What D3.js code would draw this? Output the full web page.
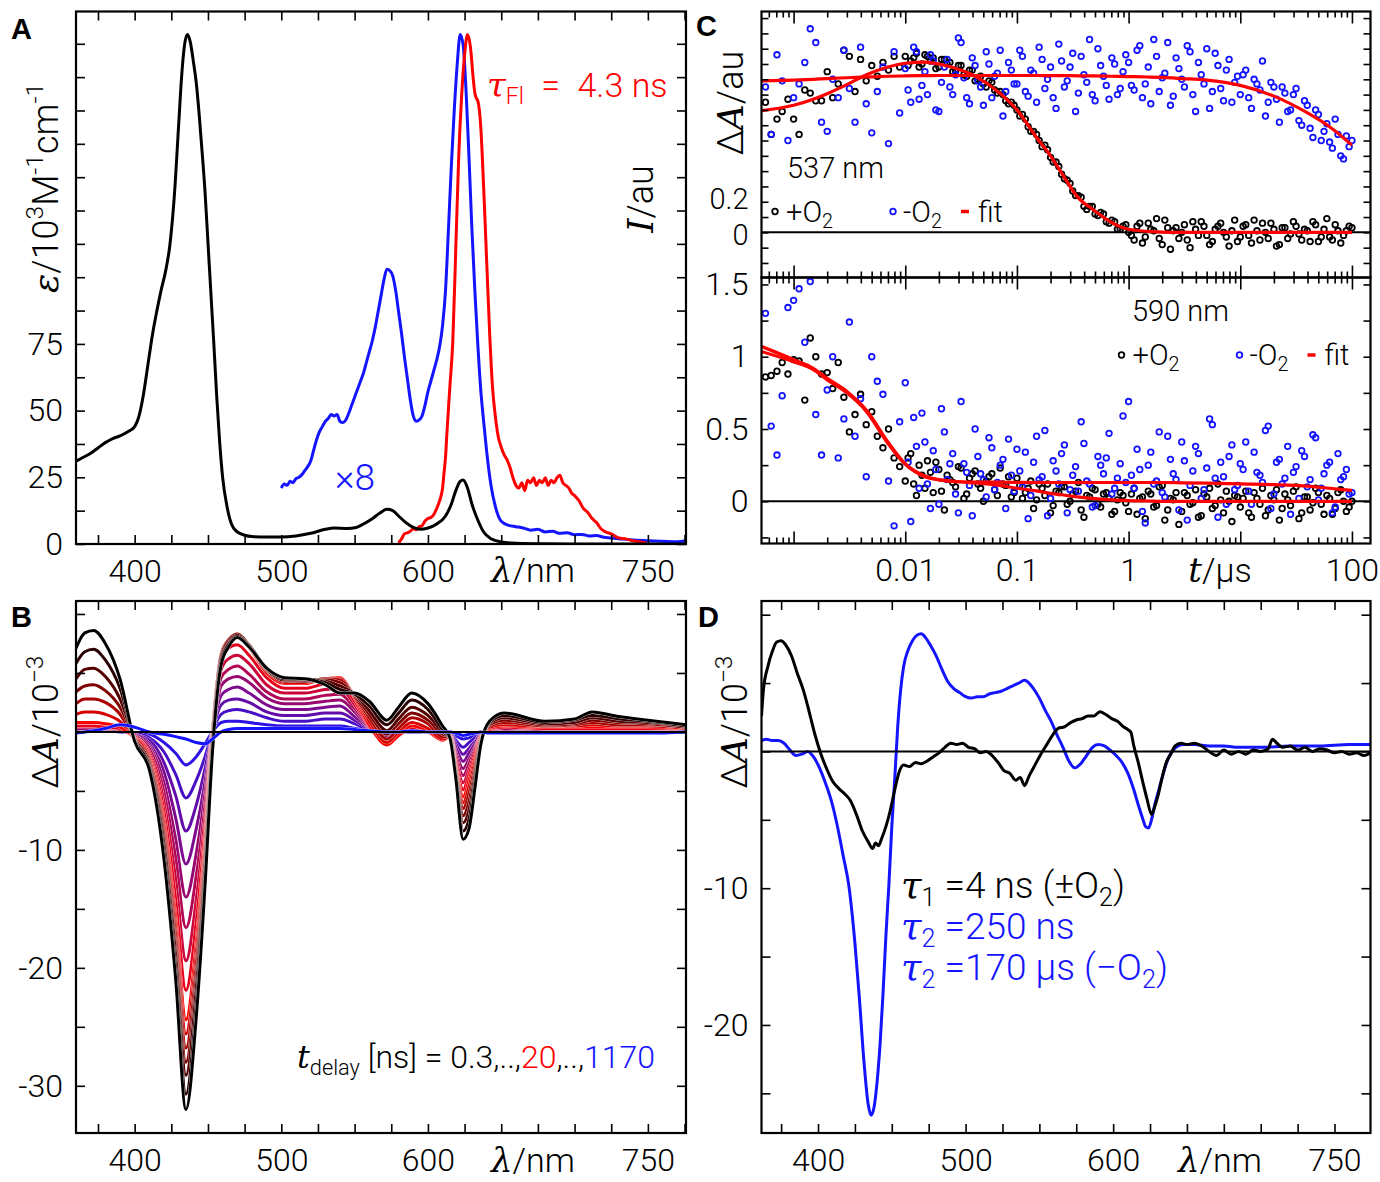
<!DOCTYPE html>
<html>
<head>
<meta charset="utf-8">
<script src="https://cdn.jsdelivr.net/npm/d3@7"></script>
<style>
  body { margin: 0; background: #fff; }
  svg { display: block; }
</style>
</head>
<body>
<svg id="fig" width="1380" height="1182"></svg>
<script>
// ---------- data ----------

// A: absorption (black), absorption x8 (blue), fluorescence (red, normalised)
const absorption = [[360,31],[365,32.5],[370,34],[375,36],[380,38],[385,39.5],[390,40.5],[395,42],[400,44],[403,48],[406,56],[409,67],[412,78],[415,87],[418,95],[421,102],[424,112],[427,130],[430,157],[432,175],[434,187],[436,191],[438,188],[440,181],[442,173],[444,161],[446,147],[448,132],[450,113],[452,94],[454,75],[456,55],[458,38],[460,25],[463,14],[466,7.5],[470,4.5],[475,3.3],[480,2.8],[490,2.6],[500,2.6],[510,3],[520,4],[530,5.5],[536,6],[545,5.8],[551,6.2],[556,7.5],[562,9.5],[567,11.5],[572,13],[576,12.5],[580,10.5],[585,8],[590,6.2],[595,5.5],[600,6],[606,7.5],[612,10.5],[616,15],[619,20],[622,23.5],[624,24],[627,21],[630,15],[634,9],[638,4.5],[643,2],[650,0.8],[660,0.3],[680,0.1],[720,0],[776,0]];
const absorptionX8 = [[500,21],[502,22.5],[504,22],[506,23.5],[508,23],[510,24.5],[512,25],[514,26],[516,27.5],[518,29],[520,31],[522,35],[524,39],[526,42],[528,44],[530,46],[532,47],[534,48.5],[536,48],[538,48.5],[540,46],[542,45.5],[544,46.5],[546,49],[548,52],[550,55],[552,58],[554,61],[556,64],[558,68],[560,72],[562,76],[564,81],[566,87],[568,93],[570,99],[572,103],[574,102.5],[576,100.5],[578,95],[580,87],[582,79],[584,70],[586,62],[588,54],[590,48],[592,46],[594,46.5],[596,48],[598,52],[600,57],[602,61],[604,65],[606,69],[608,74],[610,82],[612,95],[614,118],[616,142],[618,163],[620,180],[622,191],[624,187],[626,170],[628,145],[630,118],[632,95],[634,75],[636,58],[638,46],[640,35],[643,22],[646,14],[650,8.5],[655,7],[660,6.5],[665,6],[670,5.2],[675,5.5],[680,4.5],[685,4.8],[690,4],[695,4.2],[700,3.5],[705,3.6],[710,3],[715,3.2],[720,2.5],[730,2],[740,1.5],[750,1.2],[760,1],[770,0.8],[776,1.2]];
const emission = [[580,0.002],[582,0.01],[584,0.02],[586,0.022],[588,0.025],[590,0.03],[592,0.028],[594,0.034],[596,0.036],[598,0.045],[600,0.05],[602,0.052],[604,0.058],[606,0.07],[608,0.085],[610,0.11],[611,0.14],[612,0.17],[613,0.22],[615,0.31],[617,0.4],[619,0.58],[621,0.76],[623,0.88],[625,0.96],[627,1.0],[629,0.975],[631,0.91],[632,0.885],[633,0.875],[634,0.87],[636,0.82],[638,0.7],[640,0.56],[642,0.42],[644,0.31],[646,0.25],[648,0.21],[650,0.19],[652,0.175],[654,0.165],[656,0.15],[658,0.13],[660,0.115],[662,0.11],[664,0.12],[666,0.105],[668,0.125],[670,0.12],[672,0.13],[674,0.115],[676,0.125],[678,0.12],[680,0.13],[682,0.115],[684,0.125],[686,0.12],[688,0.13],[690,0.135],[692,0.12],[694,0.115],[696,0.11],[698,0.1],[700,0.095],[703,0.085],[706,0.07],[709,0.062],[712,0.05],[715,0.042],[718,0.03],[721,0.024],[725,0.02],[730,0.012],[735,0.01],[740,0.006],[745,0.004],[749,0.002]];

// B: transient spectra, one row per wavelength, 16 delays (0.3 ns ... 20 ns ... 1170 ns)
const tdWavelength = [360,366,372,380,390,400,410,420,428,435,442,448,453,459,464,470,478,490,502,516,530,540,550,560,572,580,589,600,610,615,619,624,628,632,636,642,652,680,700,712,730,750,776];
const tdSpectra = [
  [7.1,5.8,4.5,3.4,2.4,1.5,0.8, 0.5,0.5,0.4,0.3,0.3,0.2,0.1,0.1, -0.1],
  [8.4,6.8,5.3,3.9,2.8,1.7,0.8, 0.5,0.5,0.4,0.3,0.3,0.2,0.1,0.1, 0.0],
  [8.6,7.0,5.4,4.0,2.8,1.7,0.8, 0.5,0.5,0.4,0.3,0.3,0.2,0.1,0.1, 0.1],
  [7.5,6.1,4.7,3.5,2.5,1.5,0.7, 0.4,0.4,0.3,0.3,0.2,0.2,0.1,0.1, 0.3],
  [4.5,3.7,2.8,2.1,1.5,0.9,0.4, 0.3,0.2,0.2,0.2,0.1,0.1,0.1,0.0, 0.6],
  [-0.8,-0.7,-0.7,-0.6,-0.6,-0.5,-0.5, -0.4,-0.4,-0.3,-0.3,-0.2,-0.2,-0.1,-0.1, 0.4],
  [-3.2,-3.0,-2.8,-2.6,-2.4,-2.3,-2.1, -1.9,-1.7,-1.4,-1.2,-1.0,-0.7,-0.5,-0.2, 0.0],
  [-10.8,-10.2,-9.5,-9.0,-8.5,-8.0,-7.5, -6.7,-5.9,-5.1,-4.3,-3.4,-2.6,-1.7,-0.9, -0.2],
  [-21.0,-20.1,-19.0,-18.3,-17.4,-16.6,-15.8, -14.2,-12.5,-10.7,-9.1,-7.3,-5.4,-3.6,-1.8, -0.4],
  [-32.0,-30.7,-29.1,-28.0,-26.8,-25.6,-24.4, -21.9,-19.4,-16.6,-14.0,-11.2,-8.4,-5.6,-2.8, -0.6],
  [-24.2,-23.1,-21.8,-20.9,-19.9,-18.9,-17.9, -16.1,-14.2,-12.2,-10.3,-8.2,-6.2,-4.1,-2.1, -0.9],
  [-13.0,-12.3,-11.5,-10.9,-10.3,-9.7,-9.1, -8.2,-7.2,-6.2,-5.2,-4.2,-3.1,-2.1,-1.0, -1.0],
  [-1.8,-1.4,-1.1,-0.8,-0.5,-0.3,-0.1, 0,0,0,0,0,0,0,0, -0.6],
  [5.7,6.0,6.2,6.4,6.5,6.6,6.6, 6.0,5.3,4.6,3.9,3.1,2.3,1.5,0.8, 0.0],
  [7.2,7.4,7.5,7.7,7.8,7.8,7.8, 7.1,6.2,5.3,4.5,3.6,2.7,1.8,0.9, 0.2],
  [8.0,8.1,8.2,8.3,8.3,8.3,8.2, 7.4,6.5,5.6,4.7,3.8,2.8,1.9,0.9, 0.3],
  [7.2,7.3,7.3,7.4,7.3,7.3,7.2, 6.5,5.8,4.9,4.2,3.3,2.5,1.7,0.8, 0.3],
  [5.4,5.4,5.3,5.3,5.2,5.2,5.0, 4.6,4.0,3.4,2.9,2.3,1.7,1.2,0.6, 0.3],
  [4.6,4.5,4.4,4.4,4.3,4.2,4.1, 3.7,3.3,2.8,2.4,1.9,1.4,0.9,0.5, 0.3],
  [4.5,4.5,4.4,4.3,4.3,4.2,4.1, 3.7,3.3,2.8,2.4,1.9,1.4,0.9,0.5, 0.3],
  [4.0,4.2,4.3,4.4,4.5,4.5,4.5, 4.1,3.6,3.1,2.6,2.1,1.6,1.1,0.5, 0.3],
  [3.3,3.6,3.9,4.2,4.4,4.5,4.6, 4.2,3.7,3.2,2.7,2.2,1.6,1.1,0.5, 0.3],
  [3.3,3.2,3.2,3.1,3.0,3.0,2.9, 2.6,2.3,2.0,1.7,1.3,1.0,0.7,0.3, 0.2],
  [2.6,2.2,1.8,1.5,1.2,0.9,0.6, 0.5,0.5,0.4,0.3,0.3,0.2,0.1,0.1, 0.1],
  [1.0,0.6,0.1,-0.2,-0.6,-0.9,-1.1, -1.0,-0.9,-0.8,-0.7,-0.5,-0.4,-0.3,-0.1, 0.0],
  [2.1,1.6,1.1,0.7,0.3,0.0,-0.3, -0.3,-0.3,-0.3,-0.2,-0.2,-0.1,-0.1,0.0, 0.0],
  [3.3,2.7,2.1,1.6,1.2,0.8,0.5, 0.3,0.3,0.3,0.2,0.2,0.1,0.1,0.0, 0.1],
  [2.4,1.9,1.4,1.0,0.7,0.3,0.1, 0,0,0,0,0,0,0,0, 0.0],
  [0.5,0.2,0.0,-0.2,-0.4,-0.6,-0.7, -0.7,-0.6,-0.5,-0.4,-0.4,-0.3,-0.2,-0.1, 0.0],
  [-0.5,-0.5,-0.5,-0.4,-0.4,-0.4,-0.4, -0.3,-0.3,-0.3,-0.2,-0.2,-0.1,-0.1,0.0, 0.0],
  [-3.9,-3.7,-3.5,-3.4,-3.2,-3.0,-2.9, -2.6,-2.3,-2.0,-1.7,-1.3,-1.0,-0.7,-0.3, -0.1],
  [-9.1,-8.4,-7.7,-7.1,-6.5,-6.0,-5.5, -4.9,-4.3,-3.7,-3.1,-2.5,-1.9,-1.3,-0.6, -0.3],
  [-8.2,-7.4,-6.6,-5.9,-5.2,-4.6,-4.1, -3.6,-3.2,-2.7,-2.3,-1.8,-1.4,-0.9,-0.5, -0.2],
  [-4.8,-4.3,-3.8,-3.4,-3.0,-2.6,-2.3, -2.0,-1.7,-1.5,-1.3,-1.0,-0.8,-0.5,-0.3, -0.1],
  [-1.1,-1.0,-0.9,-0.8,-0.7,-0.6,-0.5, -0.4,-0.4,-0.3,-0.3,-0.2,-0.2,-0.1,-0.1, 0.0],
  [0.9,0.8,0.7,0.6,0.5,0.4,0.3, 0.3,0.2,0.2,0.2,0.1,0.1,0.1,0.0, -0.1],
  [1.6,1.4,1.2,1.0,0.8,0.6,0.5, 0.4,0.4,0.3,0.3,0.2,0.2,0.1,0.1, -0.1],
  [0.9,0.8,0.7,0.6,0.5,0.5,0.4, 0.3,0.3,0.3,0.2,0.2,0.1,0.1,0.0, -0.1],
  [1.1,1.0,0.8,0.7,0.6,0.5,0.4, 0.3,0.3,0.3,0.2,0.2,0.1,0.1,0.0, -0.1],
  [1.7,1.4,1.2,1.0,0.8,0.6,0.4, 0.3,0.3,0.3,0.2,0.2,0.1,0.1,0.0, -0.1],
  [1.3,1.1,0.9,0.8,0.6,0.5,0.4, 0.3,0.3,0.3,0.2,0.2,0.1,0.1,0.0, -0.1],
  [1.0,0.9,0.8,0.7,0.6,0.5,0.4, 0.3,0.3,0.3,0.2,0.2,0.1,0.1,0.0, -0.1],
  [0.6,0.5,0.5,0.4,0.4,0.3,0.3, 0.3,0.2,0.2,0.2,0.1,0.1,0.1,0.0, 0.0]
];
const tdEarlyCount = 7;   // 0.3 ns .. 20 ns, black -> red; rest red -> blue

// C: kinetics at 537 nm and 590 nm (time in microseconds), two interleaved sampling sets
const kinTime = [0.00056,0.00063,0.00071,0.00079,0.00089,
  0.001,0.00112,0.00126,0.00141,0.00158,0.00178,0.002,0.00224,0.00251,0.00282,0.00316,0.00355,0.00398,0.00447,0.00501,0.00562,0.00631,0.00708,0.00794,0.00891,
  0.01,0.0112,0.0126,0.0141,0.0158,0.0178,0.02,0.0224,0.0251,0.0282,0.0316,0.0355,0.0398,0.0447,0.0501,0.0562,0.0631,0.0708,0.0794,0.0891,
  0.1,0.112,0.126,0.141,0.158,0.178,0.2,0.224,0.251,0.282,0.316,0.355,0.398,0.447,0.501,0.562,0.631,0.708,0.794,0.891,
  1,1.12,1.26,1.41,1.58,1.78,2,2.24,2.51,2.82,3.16,3.55,3.98,4.47,5.01,5.62,6.31,7.08,7.94,8.91,
  10,11.2,12.6,14.1,15.8,17.8,20,22.4,25.1,28.2,31.6,35.5,39.8,44.7,50.1,56.2,63.1,70.8,79.4,89.1,100];
const k537Plus = [0.85,0.64,0.74,0.79,0.87,
  0.74,0.64,0.93,0.91,0.86,0.86,1.05,0.88,0.97,1.19,1.15,0.92,1.13,0.99,1.09,1.02,1.11,1.06,1.15,1.08,
  1.15,1.12,1.17,1.10,1.15,1.14,1.08,1.13,1.11,1.05,1.09,1.02,1.06,1.00,0.97,0.99,0.93,0.92,0.86,0.85,
  0.80,0.77,0.69,0.66,0.60,0.57,0.49,0.46,0.38,0.34,0.27,0.24,0.17,0.17,0.12,0.13,0.07,0.08,0.02,0.04,
  0.00,-0.05,0.06,-0.03,0.02,0.09,-0.08,0.03,0.01,-0.04,0.05,-0.10,0.02,0.07,-0.02,-0.06,0.04,0.00,-0.09,0.08,
  -0.03,0.05,-0.07,0.01,0.06,-0.04,0.02,-0.08,0.03,-0.01,0.04,-0.05,0.01,0.07,-0.06,0.02,-0.03,0.05,-0.07,0.01,0.03];
const k537Minus = [0.95,0.64,1.16,0.99,0.60,
  0.88,0.97,1.11,1.33,1.24,0.72,0.66,1.00,0.88,1.19,0.94,0.72,1.21,0.84,0.65,0.92,1.08,0.58,1.18,0.78,
  1.07,0.85,1.18,0.96,0.90,1.12,0.79,1.08,0.95,1.03,1.24,0.88,1.14,0.99,0.83,1.10,1.02,1.19,0.92,1.06,
  0.97,1.15,0.89,1.04,1.21,0.94,1.08,0.81,1.12,0.99,1.17,0.91,1.03,1.26,0.86,1.09,0.96,1.14,0.90,1.05,
  1.11,0.93,1.22,0.97,0.84,1.15,1.01,1.24,0.89,1.07,0.95,1.18,0.79,1.03,1.20,0.92,1.09,0.86,1.13,0.98,
  0.90,1.06,0.81,0.97,1.12,0.85,0.95,0.72,0.91,0.80,0.94,0.70,0.83,0.62,0.77,0.66,0.59,0.74,0.50,0.63,0.60];
const k590Plus = [0.86,0.87,0.90,0.96,0.88,
  0.98,0.97,0.70,1.13,1.00,0.88,0.89,0.78,0.96,0.72,0.48,0.60,0.74,0.53,0.62,0.45,0.37,0.50,0.30,0.24,
  0.14,0.33,0.04,0.18,0.28,0.06,0.22,-0.06,0.15,0.10,0.23,0.05,0.19,0.12,0.00,0.17,0.08,0.23,0.11,0.03,
  0.16,0.02,0.09,-0.05,0.12,0.04,-0.08,0.07,0.10,-0.02,0.05,0.13,-0.11,0.03,0.08,-0.04,0.06,-0.09,0.01,0.04,
  -0.07,0.09,0.02,-0.12,0.05,-0.03,0.11,-0.06,0.01,-0.16,0.06,-0.02,0.08,-0.10,0.03,-0.05,0.12,-0.08,0.00,0.04,
  -0.04,0.07,-0.11,0.02,0.09,-0.06,0.01,-0.13,0.05,-0.03,0.10,-0.08,0.03,-0.01,0.06,-0.09,0.02,-0.05,0.08,-0.07,0.00];
const k590Minus = [1.30,0.52,0.32,0.73,1.34,
  1.39,1.47,1.10,1.52,0.60,0.32,0.77,1.00,0.30,0.57,1.24,0.45,0.71,0.17,1.00,0.83,0.74,0.14,-0.17,0.55,
  0.82,-0.14,0.38,0.61,0.12,0.35,-0.02,0.48,0.26,0.05,0.69,0.20,-0.10,0.31,0.15,0.44,0.08,0.25,-0.05,0.18,
  0.36,0.10,-0.12,0.27,0.15,0.49,0.02,0.21,0.33,-0.08,0.18,0.07,0.40,0.12,-0.03,0.25,0.30,0.05,0.16,0.59,
  0.69,0.09,0.22,-0.15,0.34,0.14,0.06,0.45,0.19,-0.06,0.28,0.11,0.38,0.02,0.23,0.53,-0.11,0.17,0.31,0.08,
  0.26,0.41,-0.02,0.20,0.13,0.52,0.05,0.29,0.16,-0.09,0.24,0.35,0.10,0.46,0.01,0.19,0.27,-0.04,0.15,0.22,0.06];

const kinTime2 = [0.0106,0.0119,0.0133,0.015,0.0168,0.0188,0.0211,0.0237,0.0266,0.0299,0.0335,0.0376,0.0422,0.0473,0.0531,0.0596,0.0668,0.075,0.0841,0.0944,
  0.106,0.119,0.133,0.15,0.168,0.188,0.211,0.237,0.266,0.299,0.335,0.376,0.422,0.473,0.531,0.596,0.668,0.75,0.841,0.944,
  1.06,1.19,1.33,1.5,1.68,1.88,2.11,2.37,2.66,2.99,3.35,3.76,4.22,4.73,5.31,5.96,6.68,7.5,8.41,9.44,
  10.6,11.9,13.3,15,16.8,18.8,21.1,23.7,26.6,29.9,33.5,37.6,42.2,47.3,53.1,59.6,66.8,75,84.1,94.4];
const k537Plus2 = [1.09,1.14,1.08,1.16,1.12,1.07,1.13,1.10,1.05,1.09,1.03,1.06,0.99,1.02,0.95,0.98,0.91,0.90,0.84,0.83,
  0.76,0.74,0.66,0.64,0.56,0.54,0.46,0.43,0.35,0.32,0.24,0.23,0.15,0.17,0.11,0.12,0.06,0.07,0.02,0.05,
  -0.02,0.04,-0.07,0.06,0.01,-0.04,0.08,-0.11,0.03,0.00,-0.05,0.07,-0.02,0.04,-0.08,0.02,0.06,-0.03,0.01,-0.06,
  0.04,-0.02,0.08,-0.05,0.00,0.06,-0.09,0.03,-0.04,0.07,-0.01,0.02,-0.06,0.05,-0.03,0.09,-0.05,0.01,-0.02,0.04];
const k537Minus2 = [0.93,1.21,0.87,1.05,1.16,0.80,0.98,1.13,0.90,1.27,1.01,0.84,1.09,0.95,1.18,0.88,1.04,0.76,1.11,0.97,
  1.19,0.92,1.06,0.85,1.13,1.00,0.88,1.23,0.95,1.08,0.79,1.15,0.98,0.90,1.20,1.02,0.87,1.10,0.94,1.16,
  0.96,1.19,0.88,1.08,1.26,0.92,1.04,0.83,1.14,1.00,1.22,0.90,1.11,0.97,0.81,1.17,0.94,1.06,0.85,1.02,
  1.03,0.88,1.00,0.93,0.76,0.98,0.87,0.95,0.79,0.90,0.73,0.86,0.68,0.80,0.60,0.71,0.55,0.64,0.48,0.56];
const k590Plus2 = [0.30,0.12,0.25,0.09,0.20,0.27,0.07,0.18,0.13,0.24,0.02,0.16,0.21,0.09,0.14,0.19,0.04,0.12,0.17,0.06,
  0.11,0.06,0.14,0.01,0.09,0.12,-0.03,0.06,0.10,0.00,0.07,-0.06,0.04,0.09,-0.02,0.05,0.02,-0.07,0.06,-0.01,
  0.05,-0.09,0.03,0.07,-0.04,0.10,-0.13,0.02,0.06,-0.07,0.04,-0.01,-0.11,0.05,0.09,-0.03,0.01,0.07,-0.14,0.03,
  0.02,-0.08,0.06,-0.02,-0.10,0.04,0.08,-0.05,0.01,0.07,-0.12,0.03,-0.06,0.09,-0.02,0.04,-0.09,0.06,0.00,-0.04];
const k590Minus2 = [0.27,0.58,0.09,0.41,-0.05,0.22,0.64,0.15,0.33,-0.08,0.26,0.11,0.50,0.19,0.03,0.37,0.13,0.29,0.43,0.07,
  0.21,0.34,0.04,0.45,0.17,-0.10,0.28,0.12,0.39,0.08,0.24,0.55,0.14,-0.04,0.31,0.19,0.47,0.09,0.26,0.13,
  0.18,0.36,-0.07,0.25,0.12,0.48,0.03,0.29,0.15,0.41,-0.13,0.21,0.33,0.08,0.57,0.16,0.27,-0.02,0.39,0.11,
  0.22,0.07,0.34,0.18,0.49,-0.05,0.27,0.12,0.38,0.20,0.02,0.31,0.15,0.44,0.09,0.25,-0.08,0.33,0.17,0.05];

const fitTime = [0.00052,0.001,0.0015,0.002,0.003,0.0045,0.007,0.01,0.015,0.02,0.03,0.045,0.07,0.1,0.15,0.2,0.25,0.35,0.5,0.7,1,1.5,2,3,5,10,20,40,63,100];
const fit537Plus  = [0.795,0.83,0.87,0.906,0.965,1.03,1.08,1.105,1.112,1.10,1.065,1.01,0.91,0.80,0.62,0.50,0.39,0.23,0.14,0.065,0.02,0.006,0.002,0,0,0,0,0,0,0];
const fit537Minus = [0.99,0.995,1.0,1.005,1.01,1.015,1.02,1.022,1.024,1.025,1.025,1.025,1.025,1.025,1.025,1.024,1.024,1.023,1.022,1.02,1.018,1.015,1.012,1.005,0.995,0.96,0.89,0.78,0.69,0.57];
const fit590Plus  = [1.07,0.98,0.92,0.85,0.76,0.63,0.41,0.26,0.175,0.15,0.135,0.125,0.11,0.09,0.072,0.055,0.045,0.03,0.018,0.01,0.005,0.002,0,0,0,0,0,0,0,0];
const fit590Minus = [1.035,0.965,0.91,0.84,0.75,0.62,0.40,0.255,0.17,0.148,0.135,0.133,0.132,0.131,0.13,0.13,0.13,0.13,0.13,0.13,0.13,0.13,0.13,0.128,0.125,0.12,0.115,0.105,0.09,0.075];

// D: decay-associated spectra
const dasTau1 = [[361.7,2.6],[363,4.5],[366,6.2],[369,7.3],[372,8.0],[375,8.1],[378,7.8],[382,7.0],[386,5.7],[390,4.5],[394,2.9],[398,1.2],[402,-0.2],[406,-1.3],[410,-2.2],[414,-2.7],[418,-3.1],[422,-3.6],[426,-4.6],[430,-5.8],[434,-6.6],[437,-7.1],[439,-6.7],[441,-6.9],[443,-6.4],[446,-5.5],[449,-4.3],[452,-2.8],[455,-1.5],[458,-1.0],[462,-1.1],[466,-0.8],[470,-0.9],[474,-0.7],[478,-0.4],[482,-0.1],[486,0.3],[490,0.6],[494,0.5],[498,0.6],[502,0.3],[506,0.2],[510,-0.1],[514,0.0],[518,-0.3],[522,-0.8],[526,-1.4],[530,-1.6],[534,-2.1],[537,-1.9],[540,-2.5],[543,-1.8],[547,-1.0],[551,-0.2],[555,0.5],[559,1.2],[563,1.7],[567,1.8],[571,2.1],[575,2.3],[579,2.4],[583,2.6],[587,2.6],[591,2.9],[595,2.7],[599,2.4],[603,2.2],[607,1.8],[610,1.6],[612,1.4],[614,0.4],[617,-0.8],[620,-2.2],[623,-3.5],[626,-4.6],[628,-4.1],[630,-3.4],[633,-2.0],[636,-0.8],[639,-0.2],[642,0.4],[646,0.6],[650,0.5],[655,0.6],[660,0.4],[665,0.0],[670,-0.3],[675,0.1],[680,-0.2],[685,0.0],[690,-0.2],[695,0.1],[700,0.0],[705,0.2],[708,0.9],[711,0.6],[715,0.3],[720,0.4],[725,0.1],[730,0.3],[735,0.0],[740,0.2],[745,0.1],[750,-0.1],[755,0.0],[760,-0.2],[765,-0.1],[770,-0.3],[774.4,-0.1]];
const dasTau2 = [[361.7,0.8],[365,0.9],[369,0.8],[373,0.8],[377,0.6],[381,0.1],[385,-0.3],[389,-0.2],[393,0.0],[397,-0.4],[401,-1.2],[405,-2.3],[409,-3.6],[413,-5.4],[417,-7.6],[421,-9.9],[425,-14.0],[428,-18.0],[431,-22.5],[434,-25.8],[436,-26.6],[438,-26.0],[440,-24.2],[442,-21.5],[444,-17.8],[446,-13.5],[448,-9.8],[450,-5.5],[452,-2.0],[454,1.8],[456,4.5],[458,6.2],[461,7.4],[464,8.1],[467,8.5],[470,8.6],[473,8.3],[476,7.8],[480,7.0],[484,6.0],[488,5.1],[492,4.6],[496,4.3],[500,4.0],[504,3.9],[508,4.0],[512,4.0],[516,4.2],[520,4.3],[524,4.4],[528,4.6],[532,4.8],[536,5.0],[540,5.2],[543,5.0],[546,4.6],[550,3.9],[554,3.0],[558,2.2],[562,1.2],[566,0.3],[570,-0.7],[574,-1.2],[578,-0.9],[582,-0.3],[586,0.3],[590,0.5],[594,0.4],[598,0.1],[602,-0.3],[606,-0.8],[610,-1.6],[614,-2.8],[617,-3.9],[620,-4.9],[622,-5.5],[624,-5.6],[626,-5.0],[628,-4.0],[631,-2.8],[634,-1.6],[637,-0.6],[640,0.0],[644,0.4],[648,0.5],[655,0.5],[665,0.4],[675,0.4],[685,0.3],[700,0.3],[720,0.4],[740,0.4],[760,0.5],[774.4,0.5]];

// tick labels
const wlTickLabels = [400, 500, 600, 750];
const epsTickLabels = [0, 25, 50, 75];
const dATickLabelsB = [-10, -20, -30];
const dATickLabelsD = [-10, -20];
const timeTickLabels = [0.01, 0.1, 1, 100];
const kinTopTickLabels = [0, 0.2];
const kinBottomTickLabels = [0, 0.5, 1, 1.5];

// ---------- drawing ----------
const RED = "#ff0000", BLUE = "#1414ff";
const FONT = "Roboto, 'Liberation Sans', sans-serif";
const MATH = "'DejaVu Serif', 'Liberation Serif', serif";
const svg = d3.select("#fig").attr("font-family", FONT).style("font-weight", 300);

const xA = d3.scaleLinear([360, 776], [76, 686]);
const yA = d3.scaleLinear([0, 199.6], [544, 11.5]);
const yI = d3.scaleLinear([0, 1.045], [544, 11.5]);
const xB = d3.scaleLinear([360, 776], [76, 686]);
const yB = d3.scaleLinear([-34.0, 11.1], [1133, 601]);
const xD = d3.scaleLinear([361.7, 774.4], [761.5, 1370.5]);
const yD = d3.scaleLinear([-27.9, 11.0], [1133, 601]);
const xC = d3.scaleLog([5.16e-4, 146.6], [761.5, 1370.5]);
const yC1 = d3.scaleLinear([-0.295, 1.443], [277.5, 11.5]);
const yC2 = d3.scaleLinear([-0.292, 1.548], [543.5, 277.5]);

const defs = svg.append("defs");
function clipFor(id, x, y) {
  const [x0, x1] = x.range(), [y1, y0] = y.range();
  defs.append("clipPath").attr("id", id).append("rect")
    .attr("x", x0).attr("y", y0).attr("width", x1 - x0).attr("height", y1 - y0);
  return svg.append("g").attr("clip-path", `url(#${id})`);
}

function near(list, d) {
  return list.some(v => Math.abs(v - d) <= 1e-6 * Math.max(1, Math.abs(v)));
}

function axis(scale, side, at, vals, size, labels, fmt, pad) {
  const make = { bottom: d3.axisBottom, top: d3.axisTop, left: d3.axisLeft, right: d3.axisRight }[side];
  const ax = make(scale).tickValues(vals).tickSizeInner(-size).tickSizeOuter(0)
    .tickPadding(pad == null ? 14 : pad)
    .tickFormat(d => labels && near(labels, d) ? fmt(d) : "");
  const tr = (side === "bottom" || side === "top") ? `translate(0,${at})` : `translate(${at},0)`;
  const a = svg.append("g").attr("transform", tr).call(ax);
  a.attr("font-family", null).attr("font-size", null);
  a.select(".domain").remove();
  a.selectAll("line").attr("stroke", "#000").attr("stroke-width", 1.6);
  a.selectAll("text").attr("font-size", 32).attr("fill", "#000");
  a.selectAll("text").filter(function () { return !this.textContent; }).remove();
  return a;
}

function frame(x, y) {
  const [x0, x1] = x.range(), [y1, y0] = y.range();
  svg.append("rect").attr("x", x0).attr("y", y0).attr("width", x1 - x0).attr("height", y1 - y0)
    .attr("fill", "none").attr("stroke", "#000").attr("stroke-width", 2.2);
}

function rich(x, y, parts, o = {}) {
  const size = o.size || 32;
  const t = svg.append("text").attr("font-size", size).attr("fill", o.fill || "#000")
    .attr("text-anchor", o.anchor || "start");
  if (o.rotate) t.attr("transform", `translate(${x},${y}) rotate(${o.rotate})`);
  else t.attr("x", x).attr("y", y);
  parts.forEach(p => {
    const s = t.append("tspan").text(p.t);
    if (p.it) s.attr("font-family", MATH).attr("font-style", "italic").style("font-weight", 400);
    if (p.sub) s.attr("font-size", size * 0.68).attr("baseline-shift", -0.22 * size);
    if (p.sup) s.attr("font-size", size * 0.68).attr("baseline-shift", 0.42 * size);
    if (p.fill) s.attr("fill", p.fill);
  });
  return t;
}

function letter(x, y, s) {
  svg.append("text").attr("x", x).attr("y", y).text(s)
    .attr("font-family", "'Liberation Sans', Arial, sans-serif")
    .style("font-weight", 700).attr("font-size", 29);
}

const wlTicks = d3.range(375, 776, 25);
const fmtInt = d => String(d);

// ----- panel A -----
{
  const g = clipFor("clipA", xA, yA);
  const line = d3.line().x(d => xA(d[0])).y(d => yA(d[1])).curve(d3.curveMonotoneX);
  const lineI = d3.line().x(d => xA(d[0])).y(d => yI(d[1])).curve(d3.curveMonotoneX);
  g.append("path").attr("d", line(absorptionX8)).attr("fill", "none").attr("stroke", BLUE).attr("stroke-width", 3);
  g.append("path").attr("d", lineI(emission)).attr("fill", "none").attr("stroke", RED).attr("stroke-width", 3);
  g.append("path").attr("d", line(absorption)).attr("fill", "none").attr("stroke", "#000").attr("stroke-width", 3);
  const yT = [0].concat(d3.range(12.5, 200, 12.5));
  axis(xA, "bottom", 544, wlTicks, 9, wlTickLabels, fmtInt, 15);
  axis(xA, "top", 11.5, wlTicks, 9, null);
  axis(yA, "left", 76, yT, 9, epsTickLabels, fmtInt, 13);
  axis(yA, "right", 686, yT, 9, null);
  frame(xA, yA);
  rich(533, 582, [{ t: "λ", it: true }, { t: "/nm" }], { anchor: "middle", size: 34 });
  rich(45, 188, [{ t: "ε", it: true }, { t: "/10" }, { t: "3", sup: true }, { t: "M" }, { t: "-1", sup: true }, { t: "cm" }, { t: "-1", sup: true }],
    { size: 36, anchor: "middle", rotate: -90 }).attr("dy", "0.35em");
  rich(640, 199, [{ t: "I", it: true }, { t: "/au" }], { size: 36, anchor: "middle", rotate: -90 }).attr("dy", "0.35em");
  rich(487, 97, [{ t: "τ", it: true }, { t: "Fl", sub: true }, { t: "\u2002=\u20024.3 ns" }], { fill: RED, size: 34 });
  rich(335, 490, [{ t: "×8" }], { fill: BLUE, size: 37 });
  letter(11, 39, "A");
}

// ----- panel B -----
{
  const g = clipFor("clipB", xB, yB);
  const line = d3.line().x(d => xB(d[0])).y(d => yB(d[1])).curve(d3.curveMonotoneX);
  const nCurves = tdSpectra[0].length;
  const lateCount = nCurves - tdEarlyCount;
  const colorOf = k => k < tdEarlyCount
    ? d3.interpolateRgb("#000000", RED)(k / (tdEarlyCount - 1))
    : d3.interpolateRgb(RED, BLUE)((k - tdEarlyCount + 1) / lateCount);
  // later delays underneath, early (black -> red) on top, last (blue) delay drawn last
  const order = d3.range(nCurves - 2, -1, -1).concat([nCurves - 1]);
  order.forEach(k => {
    const pts = tdWavelength.map((w, i) => [w, tdSpectra[i][k]]);
    g.append("path").attr("d", line(pts)).attr("fill", "none").attr("stroke", "#fff").attr("stroke-width", 3.5);
    g.append("path").attr("d", line(pts)).attr("fill", "none").attr("stroke", colorOf(k)).attr("stroke-width", 3);
  });
  g.append("line").attr("x1", 76).attr("x2", 686).attr("y1", yB(0)).attr("y2", yB(0)).attr("stroke", "#000").attr("stroke-width", 2);
  const yT = d3.range(-30, 11, 5);
  axis(xB, "bottom", 1133, wlTicks, 9, wlTickLabels, fmtInt, 15);
  axis(xB, "top", 601, wlTicks, 9, null);
  axis(yB, "left", 76, yT, 9, dATickLabelsB, fmtInt, 13);
  axis(yB, "right", 686, yT, 9, null);
  frame(xB, yB);
  rich(533, 1172, [{ t: "λ", it: true }, { t: "/nm" }], { anchor: "middle", size: 34 });
  rich(45, 722, [{ t: "Δ" }, { t: "A", it: true }, { t: "/10" }, { t: "−3", sup: true }], { size: 36, anchor: "middle", rotate: -90 }).attr("dy", "0.35em");
  rich(297, 1068, [{ t: "t", it: true }, { t: "delay", sub: true }, { t: " [ns] = 0.3,..," }, { t: "20", fill: RED }, { t: ",..," }, { t: "1170", fill: BLUE }], { size: 32 });
  letter(11, 627, "B");
}

// ----- panel C -----
{
  const logTicks = xC.ticks();
  const majors = logTicks.filter(t => Math.abs(Math.log10(t) - Math.round(Math.log10(t))) < 1e-6);
  const minors = logTicks.filter(t => !majors.includes(t));
  const fmtT = d3.format("~g");
  const panels = [
    { y: yC1, id: "clipC1", sets: [[k537Plus, k537Minus, kinTime], [k537Plus2, k537Minus2, kinTime2]], fp: fit537Plus, fm: fit537Minus,
      ticks: d3.range(-2, 15).map(i => i / 10), labels: kinTopTickLabels, labelSize: 29 },
    { y: yC2, id: "clipC2", sets: [[k590Plus, k590Minus, kinTime], [k590Plus2, k590Minus2, kinTime2]], fp: fit590Plus, fm: fit590Minus,
      ticks: d3.range(-1, 7).map(i => i * 0.25), labels: kinBottomTickLabels, labelSize: 32 }
  ];
  panels.forEach((p, pi) => {
    const g = clipFor(p.id, xC, p.y);
    g.append("line").attr("x1", 761.5).attr("x2", 1370.5).attr("y1", p.y(0)).attr("y2", p.y(0)).attr("stroke", "#000").attr("stroke-width", 2);
    const dot = (sel, c) => sel.attr("r", 2.8).attr("fill", "none").attr("stroke", c).attr("stroke-width", 1.8);
    // black (+O2) first, blue (-O2) on top
    p.sets.forEach(([plus, , times]) => {
      g.append("g").selectAll("circle").data(d3.zip(times, plus)).join("circle")
        .attr("cx", d => xC(d[0])).attr("cy", d => p.y(d[1])).call(dot, "#000");
    });
    p.sets.forEach(([, minus, times]) => {
      g.append("g").selectAll("circle").data(d3.zip(times, minus)).join("circle")
        .attr("cx", d => xC(d[0])).attr("cy", d => p.y(d[1])).call(dot, BLUE);
    });
    const line = d3.line().x(d => xC(d[0])).y(d => p.y(d[1])).curve(d3.curveMonotoneX);
    [p.fp, p.fm].forEach(f => {
      g.append("path").attr("d", line(d3.zip(fitTime, f))).attr("fill", "none").attr("stroke", RED).attr("stroke-width", 3.2);
    });
    const [yb, yt] = p.y.range();
    axis(xC, "bottom", yb, minors, 6, null);
    axis(xC, "bottom", yb, majors, 12, pi === 1 ? timeTickLabels : null, fmtT, 15);
    axis(xC, "top", yt, minors, 6, null);
    axis(xC, "top", yt, majors, 12, null);
    const ya = axis(p.y, "left", 761.5, p.ticks, 7, p.labels, fmtT, 13);
    ya.selectAll("text").attr("font-size", p.labelSize);
    if (pi === 0) {
      ya.selectAll("text").attr("transform", d => near([0.2], d) ? "translate(0,-3)" : "translate(0,3)");
    }
    axis(p.y, "right", 1370.5, p.ticks, 7, null);
    frame(xC, p.y);
  });
  rich(1220, 582, [{ t: "t", it: true }, { t: "/µs" }], { anchor: "middle", size: 34 });
  rich(730, 103, [{ t: "Δ" }, { t: "A", it: true }, { t: "/au" }], { size: 36, anchor: "middle", rotate: -90 }).attr("dy", "0.35em");

  const legend = (x, y, nmText, nmX, nmY) => {
    rich(nmX, nmY, [{ t: nmText }], { size: 29 });
    svg.append("circle").attr("cx", x).attr("cy", y).attr("r", 2.8).attr("fill", "none").attr("stroke", "#000").attr("stroke-width", 1.8);
    rich(x + 11, y + 10, [{ t: "+O" }, { t: "2", sub: true }], { size: 29 });
    svg.append("circle").attr("cx", x + 118).attr("cy", y).attr("r", 2.8).attr("fill", "none").attr("stroke", BLUE).attr("stroke-width", 1.8);
    rich(x + 128, y + 10, [{ t: "-O" }, { t: "2", sub: true }], { size: 29 });
    svg.append("line").attr("x1", x + 186).attr("x2", x + 194).attr("y1", y).attr("y2", y).attr("stroke", RED).attr("stroke-width", 3.5);
    rich(x + 203, y + 10, [{ t: "fit" }], { size: 29 });
  };
  legend(775, 211.5, "537 nm", 787, 178);
  legend(1121.5, 355, "590 nm", 1132, 321);
  letter(696, 36, "C");
}

// ----- panel D -----
{
  const g = clipFor("clipD", xD, yD);
  const line = d3.line().x(d => xD(d[0])).y(d => yD(d[1])).curve(d3.curveMonotoneX);
  g.append("path").attr("d", line(dasTau2)).attr("fill", "none").attr("stroke", BLUE).attr("stroke-width", 3);
  g.append("path").attr("d", line(dasTau1)).attr("fill", "none").attr("stroke", "#000").attr("stroke-width", 3);
  g.append("line").attr("x1", 761.5).attr("x2", 1370.5).attr("y1", yD(0)).attr("y2", yD(0)).attr("stroke", "#000").attr("stroke-width", 2);
  const xT = d3.range(375, 775, 25);
  const yT = d3.range(-25, 11, 5);
  axis(xD, "bottom", 1133, xT, 9, wlTickLabels, fmtInt, 15);
  axis(xD, "top", 601, xT, 9, null);
  axis(yD, "left", 761.5, yT, 9, dATickLabelsD, fmtInt, 13);
  axis(yD, "right", 1370.5, yT, 9, null);
  frame(xD, yD);
  rich(1220, 1172, [{ t: "λ", it: true }, { t: "/nm" }], { anchor: "middle", size: 34 });
  rich(734, 722, [{ t: "Δ" }, { t: "A", it: true }, { t: "/10" }, { t: "−3", sup: true }], { size: 36, anchor: "middle", rotate: -90 }).attr("dy", "0.35em");
  rich(901, 898, [{ t: "τ", it: true }, { t: "1", sub: true }, { t: " =4 ns (±O" }, { t: "2", sub: true }, { t: ")" }], { size: 37 });
  rich(901, 939, [{ t: "τ", it: true }, { t: "2", sub: true }, { t: " =250 ns" }], { fill: BLUE, size: 37 });
  rich(901, 980, [{ t: "τ", it: true }, { t: "2", sub: true }, { t: " =170 µs (−O" }, { t: "2", sub: true }, { t: ")" }], { fill: BLUE, size: 37 });
  letter(698, 627, "D");
}
</script>
</body>
</html>
